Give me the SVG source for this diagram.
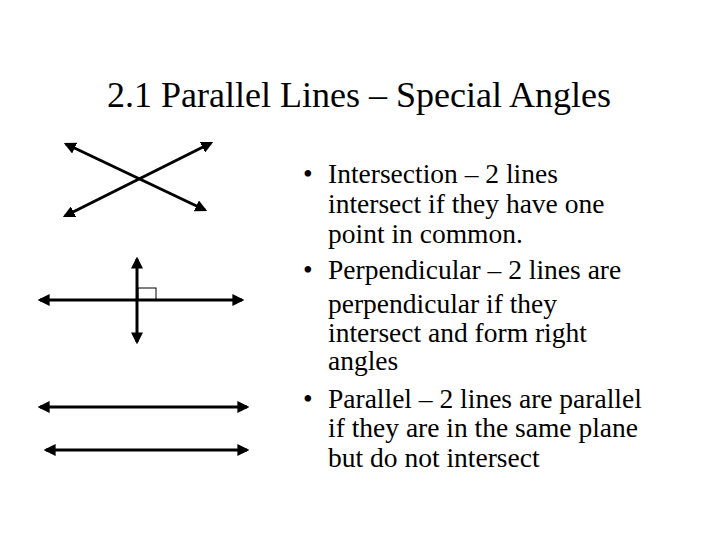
<svg xmlns="http://www.w3.org/2000/svg" width="720" height="540" viewBox="0 0 720 540">
<defs>
<marker id="ah" viewBox="0 0 10 10" refX="8" refY="5" markerWidth="4" markerHeight="4" orient="auto-start-reverse"><path d="M0,0 L10,5 L0,10 z" fill="#000"/></marker>
<style>
.ln{stroke:#000;stroke-width:3;fill:none;marker-start:url(#ah);marker-end:url(#ah)}
text{font-family:"Liberation Serif",serif;fill:#000}
.b{font-size:27.5px}
</style>
</defs>
<rect width="720" height="540" fill="#fff"/>
<text x="359" y="107" font-size="36" text-anchor="middle">2.1 Parallel Lines – Special Angles</text>
<g id="connectors">
<line class="ln" x1="66" y1="144" x2="205" y2="210"/>
<line class="ln" x1="65" y1="216" x2="211" y2="143"/>
<line class="ln" x1="40" y1="300" x2="242" y2="300"/>
<line class="ln" x1="137" y1="259" x2="137" y2="342"/>
<rect x="138" y="288" width="18" height="12" fill="none" stroke="#000" stroke-width="1"/>
<line class="ln" x1="40" y1="407" x2="247" y2="407"/>
<line class="ln" x1="46" y1="450" x2="247" y2="450"/>
</g>
<g id="text" class="b">
<text x="303" y="183">•</text><text x="328" y="183">Intersection – 2 lines</text>
<text x="328" y="213">intersect if they have one</text>
<text x="328" y="243">point in common.</text>
<text x="303" y="279">•</text><text x="328" y="279">Perpendicular – 2 lines are</text>
<text x="328" y="313">perpendicular if they</text>
<text x="328" y="342">intersect and form right</text>
<text x="328" y="370">angles</text>
<text x="303" y="408">•</text><text x="328" y="408">Parallel – 2 lines are parallel</text>
<text x="328" y="437">if they are in the same plane</text>
<text x="328" y="467">but do not intersect</text>
</g>
</svg>
